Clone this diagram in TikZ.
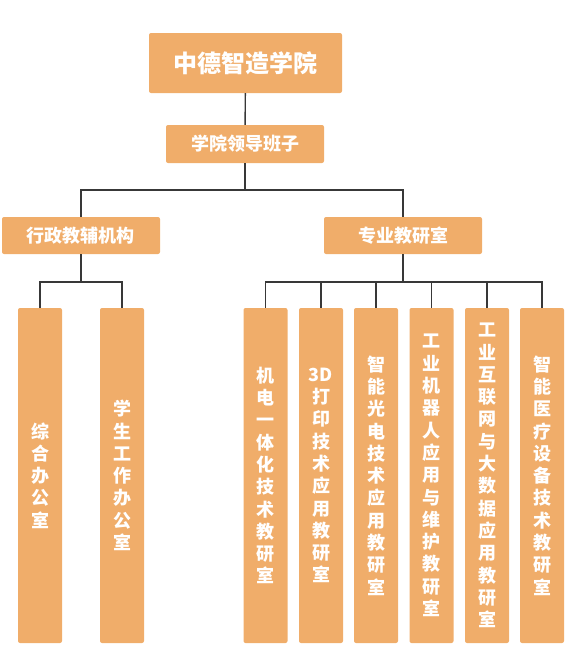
\documentclass[tikz,border=0pt]{standalone}
\usepackage{fontspec}
\setmainfont{Noto Sans CJK SC}
\usepackage{tikz}
\usetikzlibrary{positioning}
\definecolor{boxorange}{HTML}{F0AD6A}
\definecolor{linegray}{HTML}{383838}
\tikzset{
  box/.style   ={rectangle, rounded corners=2pt, fill=boxorange, text=white,
                 inner sep=0pt, font=\bfseries, align=center},
  root/.style  ={box, minimum width=193pt, minimum height=60pt,
                 font=\bfseries\fontsize{24}{28}\selectfont},
  lead/.style  ={box, minimum width=158pt, minimum height=38pt,
                 font=\bfseries\fontsize{18}{22}\selectfont},
  grp/.style   ={box, minimum width=158pt, minimum height=37pt,
                 font=\bfseries\fontsize{18}{22}\selectfont},
  unit/.style  ={box, minimum width=44pt, minimum height=335pt,
                 font=\bfseries\fontsize{18}{22.3}\selectfont},
  con/.style   ={draw=linegray, line width=1.4pt},
}
\begin{document}
\begin{tikzpicture}[x=1pt,y=-1pt]
\useasboundingbox (0,0) rectangle (588,654);
\node[root] (college) at (245.5,63)  {中德智造学院};
\node[lead] (leader)  at (245,144)   {学院领导班子};
\node[grp]  (admin)   at (81,235.5)  {行政教辅机构};
\node[grp]  (prof)    at (403,235.5) {专业教研室};
\coordinate (bus1) at (245,190);
\coordinate (bus2) at (403,282);
% administration offices
\node[unit] (off1) at (40,475.5)  {综\\合\\办\\公\\室};
\node[unit] (off2) at (122,475.5) {学\\生\\工\\作\\办\\公\\室};
\coordinate (bus3) at (81,282);
% teaching and research rooms
\node[unit] (tr1) at (265.5,475.5) {机\\电\\一\\体\\化\\技\\术\\教\\研\\室};
\node[unit] (tr2) at (321,475.5)   {3D\\打\\印\\技\\术\\应\\用\\教\\研\\室};
\node[unit] (tr3) at (376,475.5)   {智\\能\\光\\电\\技\\术\\应\\用\\教\\研\\室};
\node[unit] (tr4) at (431.5,475.5) {工\\业\\机\\器\\人\\应\\用\\与\\维\\护\\教\\研\\室};
\node[unit] (tr5) at (487,475.5)   {工\\业\\互\\联\\网\\与\\大\\数\\据\\应\\用\\教\\研\\室};
\node[unit] (tr6) at (542,475.5)   {智\\能\\医\\疗\\设\\备\\技\\术\\教\\研\\室};
\draw[con] (college) -- (leader);
\draw[con] (leader) -- (bus1) -| (admin);
\draw[con] (bus1) -| (prof);
\draw[con] (admin) -- (bus3);
\draw[con] (bus3) -| (off1);
\draw[con] (bus3) -| (off2);
\draw[con] (prof) -- (bus2);
\foreach \i in {1,...,6}
  \draw[con] (bus2) -| (tr\i);
\end{tikzpicture}
\end{document}
